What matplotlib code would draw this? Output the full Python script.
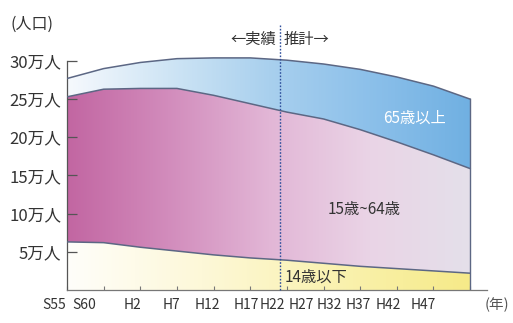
import numpy as np
import matplotlib
matplotlib.use("Agg")
import matplotlib.pyplot as plt
from matplotlib.colors import LinearSegmentedColormap

plt.rcParams['font.family'] = ['Noto Sans CJK JP', 'DejaVu Sans']

# population in units of 10,000 (万人)
YEARS = [1980, 1985, 1990, 1995, 2000, 2005, 2010, 2015, 2020, 2025, 2030, 2035]
YEAR_LABELS = ['S55', 'S60', 'H2', 'H7', 'H12', 'H17', 'H22', 'H27', 'H32', 'H37', 'H42', 'H47']
AGE_0_14 = [6.3, 6.2, 5.6, 5.1, 4.6, 4.2, 3.9, 3.5, 3.1, 2.8, 2.5, 2.2]
AGE_0_64 = [25.3, 26.3, 26.4, 26.4, 25.5, 24.4, 23.3, 22.4, 21.0, 19.4, 17.7, 15.9]
TOTAL = [27.7, 29.0, 29.8, 30.3, 30.4, 30.4, 30.1, 29.6, 28.9, 27.9, 26.7, 25.0]
Y_TICKS = [5, 10, 15, 20, 25, 30]
Y_LABELS = ['5万人', '10万人', '15万人', '20万人', '25万人', '30万人']
SPLIT_YEAR = 2009   # boundary between 実績 and 推計 as drawn

# where the (condensed) year labels sit in the original artwork
LABEL_X = [1978.3, 1982.4, 1989.0, 1994.2, 1999.2, 2004.4, 2008.0,
           2011.9, 2015.8, 2019.7, 2023.8, 2028.6]

LINE = '#5c6784'
INK = '#333333'

fig = plt.figure(figsize=(5.13, 3.23), dpi=100)
ax = fig.add_axes([0.1306, 0.1022, 0.8187, 0.780])
x = np.array(YEARS, dtype=float)
x0, x1 = x[0], x[-1]
ymax = 33


def gradient_band(lower, upper, colors):
    cmap = LinearSegmentedColormap.from_list('band', colors)
    poly = ax.fill_between(x, lower, upper, color='none', linewidth=0)
    grad = np.linspace(0, 1, 256).reshape(1, -1)
    im = ax.imshow(grad, cmap=cmap, aspect='auto', extent=[x0, x1, 0, ymax],
                   origin='lower', zorder=1, interpolation='bicubic')
    path = poly.get_paths()[0]
    im.set_clip_path(path, transform=ax.transData)


zeros = np.zeros_like(x)
gradient_band(zeros, AGE_0_14, ['#fffefa', '#fdf8d8', '#faf2b0', '#f6ea88'])
gradient_band(AGE_0_14, AGE_0_64, ['#c266a2', '#d28cbc', '#e2b6d6', '#ead4e6', '#e4e0ea'])
gradient_band(AGE_0_64, TOTAL, ['#f6f9fd', '#cfe5f5', '#a9d0ee', '#8cc0ea', '#70b0e2'])

for series in (AGE_0_14, AGE_0_64, TOTAL):
    ax.plot(x, series, color=LINE, linewidth=1.1, zorder=3)
ax.plot([x1, x1], [0, TOTAL[-1]], color=LINE, linewidth=1.0, zorder=3)

ax.axvline(SPLIT_YEAR, color='#2f4f9c', linestyle=(0, (1.2, 1.2)),
           linewidth=1.0, zorder=4, ymin=0, ymax=1.05, clip_on=False)

# band labels
ax.text(2027.4, 22.5, '65歳以上', color='white', fontsize=11, ha='center', va='center', zorder=5)
ax.text(2020.6, 10.6, '15歳~64歳', color=INK, fontsize=11, ha='center', va='center', zorder=5)
ax.text(2014.0, 1.7, '14歳以下', color=INK, fontsize=11, ha='center', va='center', zorder=5)

ax.text(SPLIT_YEAR - 0.5, 32.8, '←実績', color=INK, fontsize=11, ha='right', va='center')
ax.text(SPLIT_YEAR + 0.5, 32.8, '推計→', color=INK, fontsize=11, ha='left', va='center')

# axes styling
for side in ('top', 'right'):
    ax.spines[side].set_visible(False)
ax.spines['left'].set_bounds(0, 30)
ax.spines['left'].set_color('#555555')
ax.spines['bottom'].set_color('#777777')
ax.spines['left'].set_linewidth(0.9)
ax.spines['bottom'].set_linewidth(0.9)

ax.set_yticks(Y_TICKS)
ax.set_yticklabels(Y_LABELS, fontsize=12, color=INK)
ax.tick_params(axis='y', direction='in', length=7, width=0.9, color='#555555', pad=4)

ax.set_xticks(YEARS)
ax.set_xticklabels([])
ax.tick_params(axis='x', which='major', direction='in', length=3, width=0.8, color='#777777')

ax.set_xlim(x0, 2037.3)
ax.set_ylim(0, ymax)

xtrans = ax.get_xaxis_transform()
for lx, lab in zip(LABEL_X, YEAR_LABELS):
    ax.text(lx, -0.03, lab, transform=xtrans, fontsize=10, color=INK,
            ha='center', va='top', clip_on=False)
ax.text(2038.6, -0.03, '(年)', transform=xtrans, fontsize=10.5,
        color='#555555', ha='center', va='top', clip_on=False)
fig.text(0.02, 0.925, '(人口)', fontsize=11.5, color=INK, ha='left', va='center')

fig.savefig('out.png', dpi=100)
